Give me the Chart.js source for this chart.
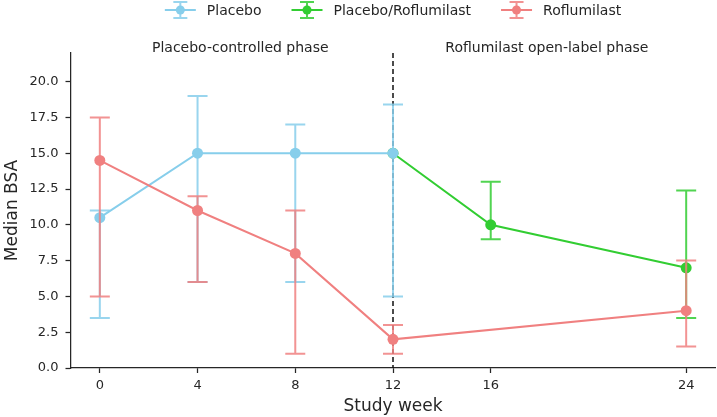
<!DOCTYPE html>
<html>
<head>
<meta charset="utf-8">
<script src="https://cdn.jsdelivr.net/npm/chart.js@4.4.1/dist/chart.umd.min.js"></script>
<style>
  html, body { margin: 0; padding: 0; background: #fff; overflow: hidden; }
  #wrap { width: 721px; height: 417px; }
</style>
</head>
<body>
<div id="wrap"><canvas id="chart"></canvas></div>
<script>
// tick labels
const xTicks = [0, 4, 8, 12, 16, 24];
const yTicks = [0, 2.5, 5, 7.5, 10, 12.5, 15, 17.5, 20];

// Placebo (weeks 0-12)
const placeboWeeks = [0, 4, 8, 12];
const placeboMedian = [10.5, 15, 15, 15];
const placeboLow = [3.5, 6, 6, 5];
const placeboHigh = [11, 19, 17, 18.4];

// Placebo -> Roflumilast (weeks 12-24)
const switchWeeks = [12, 16, 24];
const switchMedian = [15, 10, 7];
const switchLow = [null, 9, 3.5];
const switchHigh = [null, 13, 12.4];

// Roflumilast
const roflWeeks = [0, 4, 8, 12, 24];
const roflMedian = [14.5, 11, 8, 2, 4];
const roflLow = [5, 6, 1, 1, 1.5];
const roflHigh = [17.5, 12, 11, 3, 7.5];

const phaseLabels = ['Placebo-controlled phase', 'Roflumilast open-label phase'];
const phaseSplit = 12;

const FONT = "'DejaVu Sans', sans-serif";
const TEXT = '#262626';

function pts(xs, ys) {
    return xs.map((x, i) => ({ x: x, y: ys[i] }));
}

function makeSet(label, color, xs, ys, lo, hi, order) {
    return {
        label: label,
        data: pts(xs, ys),
        errLow: lo,
        errHigh: hi,
        borderColor: color,
        backgroundColor: color,
        pointBackgroundColor: color,
        pointBorderWidth: 0,
        pointRadius: 5.5,
        borderWidth: 2,
        tension: 0,
        order: order,
    };
}

const datasets = [
    makeSet('Placebo', '#87CEEB', placeboWeeks, placeboMedian, placeboLow, placeboHigh, 1),
    makeSet('Placebo/Roflumilast', '#32CD32', switchWeeks, switchMedian, switchLow, switchHigh, 2),
    makeSet('Roflumilast', '#F08080', roflWeeks, roflMedian, roflLow, roflHigh, 0),
];

// dashed phase divider, drawn under the data
const dividerPlugin = {
    id: 'divider',
    beforeDatasetsDraw(chart) {
        const { ctx, chartArea, scales } = chart;
        const x = scales.x.getPixelForValue(phaseSplit);
        ctx.save();
        ctx.strokeStyle = '#111';
        ctx.lineWidth = 1.5;
        ctx.setLineDash([5, 3]);
        ctx.beginPath();
        ctx.moveTo(x, chartArea.top);
        ctx.lineTo(x, chartArea.bottom);
        ctx.stroke();
        ctx.restore();
    }
};

// error bars with caps
const errorBarPlugin = {
    id: 'errorBars',
    beforeDatasetDraw(chart, args) {
        const ds = chart.data.datasets[args.index];
        const { ctx, scales } = chart;
        ctx.save();
        ctx.globalAlpha = 0.85;
        ctx.strokeStyle = ds.borderColor;
        ctx.lineWidth = 2;
        ds.data.forEach((p, i) => {
            if (ds.errLow[i] == null) return;
            const x = scales.x.getPixelForValue(p.x);
            const yl = scales.y.getPixelForValue(ds.errLow[i]);
            const yh = scales.y.getPixelForValue(ds.errHigh[i]);
            ctx.beginPath();
            ctx.moveTo(x, yl); ctx.lineTo(x, yh);
            ctx.moveTo(x - 10, yl); ctx.lineTo(x + 10, yl);
            ctx.moveTo(x - 10, yh); ctx.lineTo(x + 10, yh);
            ctx.stroke();
        });
        ctx.restore();
    }
};

// legend + phase captions
const labelsPlugin = {
    id: 'labels',
    afterDraw(chart) {
        const { ctx, chartArea, scales } = chart;
        ctx.save();
        ctx.font = '14px ' + FONT;
        ctx.fillStyle = TEXT;
        ctx.textBaseline = 'middle';
        ctx.textAlign = 'center';
        ctx.fillText(phaseLabels[0], scales.x.getPixelForValue(5.75), 48);
        ctx.fillText(phaseLabels[1], scales.x.getPixelForValue(18.3), 48);

        // legend
        const iconW = 31, gap = 11, spacing = 30, cy = 10;
        const sets = [datasets[0], datasets[1], datasets[2]];
        let total = 0;
        sets.forEach((ds, i) => {
            total += iconW + gap + ctx.measureText(ds.label).width;
            if (i < sets.length - 1) total += spacing;
        });
        let x = (chartArea.left + chartArea.right) / 2 - total / 2;
        ctx.textAlign = 'left';
        sets.forEach(ds => {
            const c = ds.borderColor;
            const mid = x + iconW / 2;
            ctx.globalAlpha = 1;
            ctx.strokeStyle = c;
            ctx.lineWidth = 2;
            ctx.beginPath();
            ctx.moveTo(x, cy); ctx.lineTo(x + iconW, cy);
            ctx.stroke();
            ctx.globalAlpha = 0.85;
            ctx.beginPath();
            ctx.moveTo(mid, cy - 8); ctx.lineTo(mid, cy + 8);
            ctx.moveTo(mid - 7, cy - 8); ctx.lineTo(mid + 7, cy - 8);
            ctx.moveTo(mid - 7, cy + 8); ctx.lineTo(mid + 7, cy + 8);
            ctx.stroke();
            ctx.globalAlpha = 1;
            ctx.fillStyle = c;
            ctx.beginPath();
            ctx.arc(mid, cy, 4.5, 0, Math.PI * 2);
            ctx.fill();
            x += iconW + gap;
            ctx.fillStyle = TEXT;
            ctx.fillText(ds.label, x, cy + 1);
            x += ctx.measureText(ds.label).width + spacing;
        });
        ctx.restore();
    }
};

new Chart(document.getElementById('chart').getContext('2d'), {
    type: 'line',
    data: { datasets: datasets },
    plugins: [dividerPlugin, errorBarPlugin, labelsPlugin],
    options: {
        responsive: true,
        maintainAspectRatio: false,
        animation: false,
        layout: { padding: { top: 53, right: 0, left: 0, bottom: 0 } },
        plugins: { legend: { display: false }, tooltip: { enabled: false } },
        scales: {
            x: {
                type: 'linear',
                min: -1.2,
                max: 25.2,
                afterBuildTicks: s => { s.ticks = xTicks.map(v => ({ value: v })); },
                afterFit: s => { s.height = 49; },
                grid: { drawOnChartArea: false, drawTicks: true, tickLength: 5, tickColor: TEXT, tickWidth: 1.25 },
                border: { color: TEXT, width: 1.25 },
                ticks: { color: TEXT, font: { family: FONT, size: 13 }, padding: 5, maxRotation: 0 },
                title: { display: true, text: 'Study week', color: TEXT, font: { family: FONT, size: 17 }, padding: { top: 0, bottom: 0 } },
            },
            y: {
                min: 0,
                max: 22,
                afterBuildTicks: s => { s.ticks = yTicks.map(v => ({ value: v })); },
                afterFit: s => { s.width = 70.5; },
                grid: { drawOnChartArea: false, drawTicks: true, tickLength: 5, tickColor: TEXT, tickWidth: 1.25 },
                border: { color: TEXT, width: 1.25 },
                ticks: { color: TEXT, font: { family: FONT, size: 13 }, padding: 7, callback: v => v.toFixed(1) },
                title: { display: true, text: 'Median BSA', color: TEXT, font: { family: FONT, size: 17 }, padding: { top: 2, bottom: 0 } },
            },
        },
    },
});
</script>
</body>
</html>
